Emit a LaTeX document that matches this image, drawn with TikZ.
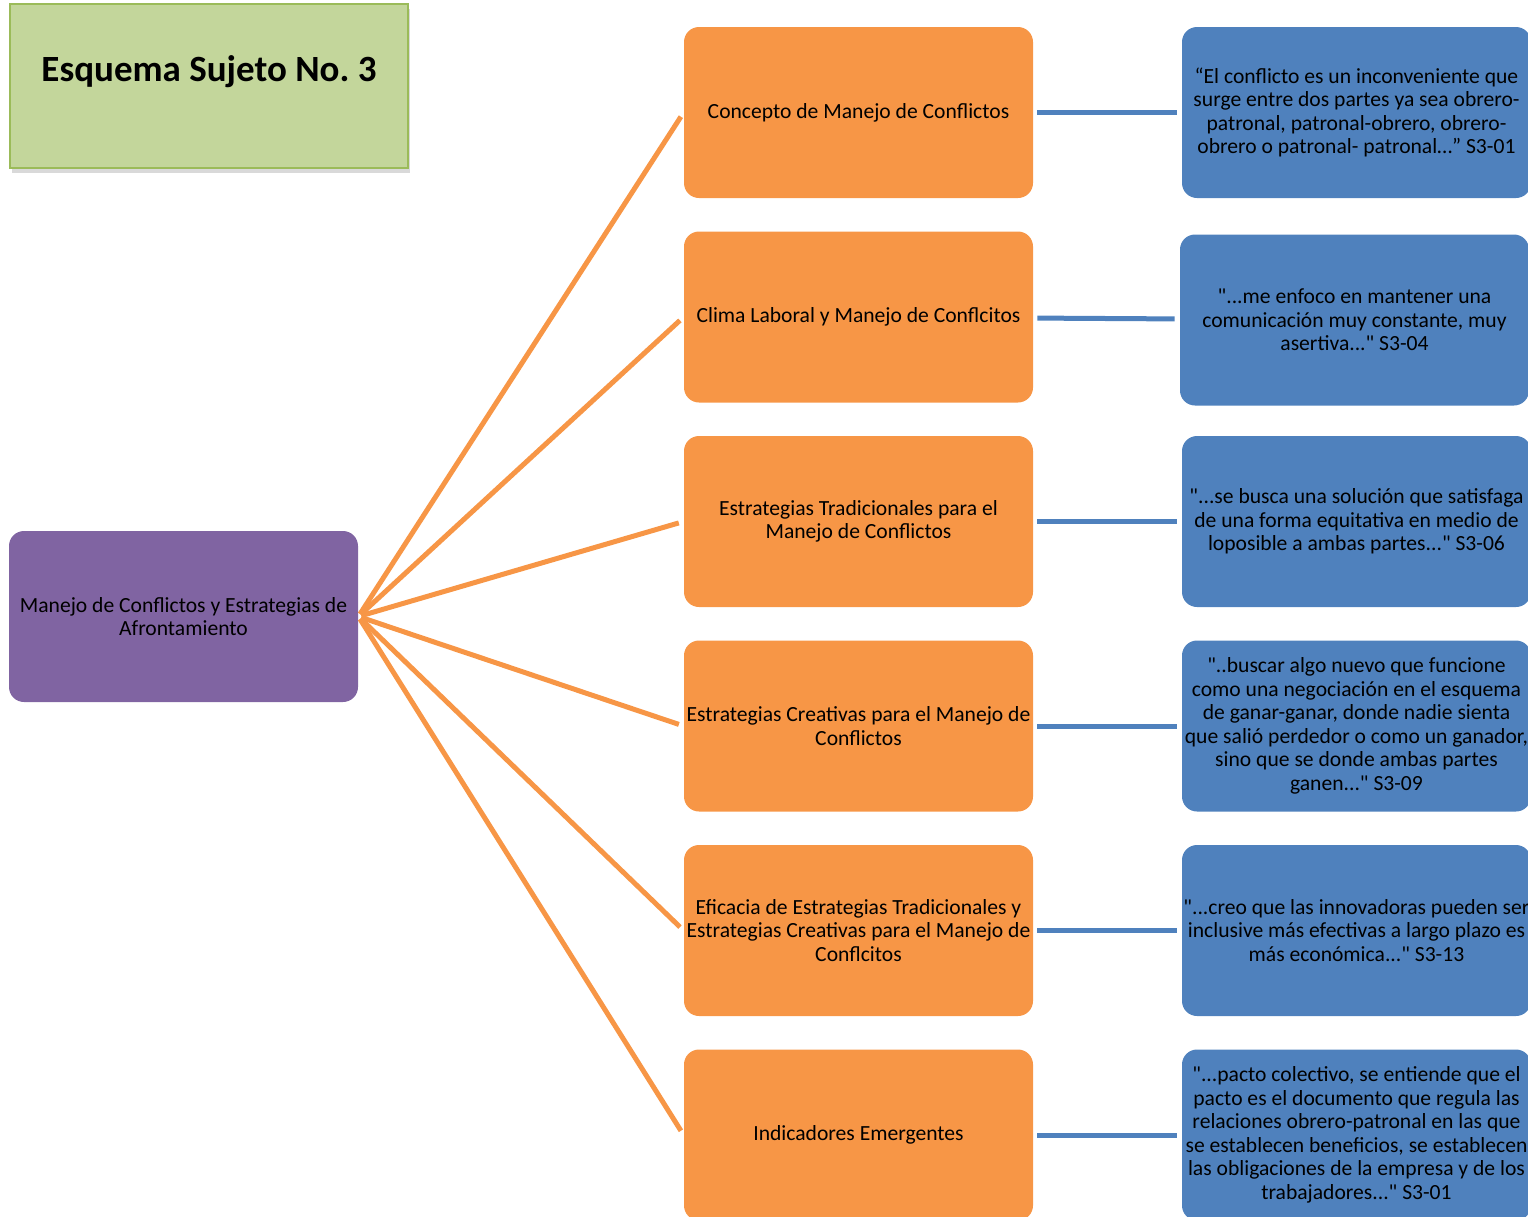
\documentclass[tikz,border=0pt]{standalone}
\usepackage{fontspec}
\setmainfont{Carlito}[Ligatures=TeXOff]
\usepackage{xcolor}
\usetikzlibrary{shapes,arrows,positioning,shadows}

\definecolor{titlegreen}{HTML}{C3D69B}
\definecolor{titleline}{HTML}{9BBB59}
\definecolor{topicpurple}{HTML}{8064A2}
\definecolor{blockorange}{HTML}{F79646}
\definecolor{quoteblue}{HTML}{4F81BD}

\begin{document}
\frenchspacing
\begin{tikzpicture}[x=0.5pt, y=-0.5pt, node distance=102.25pt, auto,
    font=\fontsize{10.8}{11.75}\selectfont]
        \tikzstyle{titlebox} = [rectangle, draw=titleline, line width=1pt, fill=titlegreen,
            minimum width=199pt, minimum height=82pt, font=\fontsize{18.5}{21}\selectfont\bfseries,
            text height=13pt, text depth=18pt, drop shadow={opacity=0.3, shadow xshift=1pt, shadow yshift=-2.5pt}]
        \tikzstyle{topic} = [rectangle, fill=topicpurple, minimum width=174.5pt,
            minimum height=85.5pt, rounded corners=7.5pt, align=center, inner sep=0pt]
        \tikzstyle{block} = [rectangle, fill=blockorange, minimum width=174.5pt,
            minimum height=85.5pt, rounded corners=7.5pt, align=center, inner sep=0pt]
        \tikzstyle{quote} = [rectangle, fill=quoteblue, minimum width=174.5pt,
            minimum height=85.5pt, rounded corners=7.5pt, align=center, inner sep=0pt]
        \tikzstyle{branch} = [draw=blockorange, line width=2.5pt, shorten <=1.5pt, shorten >=2.5pt]
        \tikzstyle{link} = [draw=quoteblue, line width=2.5pt, shorten <=2pt, shorten >=2.5pt]

        \useasboundingbox (0,0) rectangle (1528,1217);
        \clip (0,0) rectangle (1528,1217);

        \node [titlebox] (title) at (209,86) {Esquema Sujeto No. 3};
        \node [topic] (root) at (183.5,616.5) {Manejo de Conflictos y Estrategias de\\Afrontamiento};

        % categories
        \node [block] (concept) at (858.5,112.5) {Concepto de Manejo de Conflictos};
        \node [block, below of=concept] (climate) {Clima Laboral y Manejo de Conflcitos};
        \node [block, below of=climate] (classic) {Estrategias Tradicionales para el\\Manejo de Conflictos};
        \node [block, below of=classic] (creative) {Estrategias Creativas para el Manejo de\\Conflictos};
        \node [block, below of=creative] (efficacy) {Eficacia de Estrategias Tradicionales y\\Estrategias Creativas para el Manejo de\\Conflcitos};
        \node [block, below of=efficacy] (emergent) {Indicadores Emergentes};

        % quotes
        \node [quote, right of=concept, node distance=249pt] (qconcept) {“El conflicto es un inconveniente que\\surge entre dos partes ya sea obrero-\\patronal, patronal-obrero, obrero-\\obrero o patronal- patronal…” S3-01};
        \node [quote, right of=climate, node distance=249pt, xshift=-1pt, yshift=-1.5pt] (qclimate) {"...me enfoco en mantener una\\comunicación muy constante, muy\\asertiva..." S3-04};
        \node [quote, right of=classic, node distance=249pt] (qclassic) {"...se busca una solución que satisfaga\\de una forma equitativa en medio de\\loposible a ambas partes..." S3-06};
        \node [quote, right of=creative, node distance=249pt] (qcreative) {"..buscar algo nuevo que funcione\\como una negociación en el esquema\\de ganar-ganar, donde nadie sienta\\que salió perdedor o como un ganador,\\sino que se donde ambas partes\\ganen..." S3-09};
        \node [quote, right of=efficacy, node distance=249pt] (qefficacy) {"...creo que las innovadoras pueden ser\\inclusive más efectivas a largo plazo es\\más económica..." S3-13};
        \node [quote, right of=emergent, node distance=249pt] (qemergent) {"...pacto colectivo, se entiende que el\\pacto es el documento que regula las\\relaciones obrero-patronal en las que\\se establecen beneficios, se establecen\\las obligaciones de la empresa y de los\\trabajadores..." S3-01};

        \foreach \cat in {concept, climate, classic, creative, efficacy, emergent}
            \path [branch] (root.east) -- (\cat.west);
        \path [link] (concept) -- (qconcept);
        \path [link] (climate) -- (qclimate);
        \path [link] (classic) -- (qclassic);
        \path [link] (creative) -- (qcreative);
        \path [link] (efficacy) -- (qefficacy);
        \path [link] (emergent) -- (qemergent);
\end{tikzpicture}
\end{document}
